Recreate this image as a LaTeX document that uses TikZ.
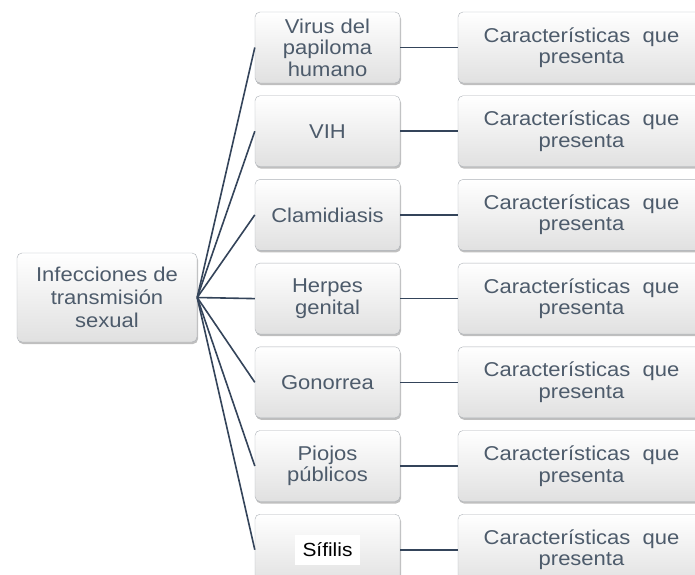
\documentclass[tikz,border=0pt]{standalone}
\usepackage{fontspec}
\setmainfont{Liberation Sans}[FakeStretch=1.1]
\usetikzlibrary{shadows}
\definecolor{textgray}{HTML}{4D5B6B}
\definecolor{linegray}{HTML}{34445A}
\definecolor{boxline}{HTML}{ADB2B8}
\tikzset{
    itsbox/.style={draw=boxline, rounded corners=5pt, top color=white, bottom color=black!12,
        drop shadow={shadow xshift=1pt, shadow yshift=-2pt, opacity=0.5},
        text=textgray, align=center, font=\fontsize{20}{21.5}\selectfont,
        inner sep=0pt, minimum height=71pt},
    link/.style={linegray, line width=1.6pt}
}

\begin{document}
\begin{tikzpicture}[x=1pt, y=-1pt]
    \clip (0,0) rectangle (695,574);
    \fill[white] (0,0) rectangle (695,574);
    % Root box
    \node[itsbox, minimum width=180pt, minimum height=89pt, font=\fontsize{20}{23}\selectfont] (its) at (107,297.5)
        {Infecciones de\\transmisión\\sexual};
    % One row per infection, each with its box of characteristics
    \foreach \name [count=\i] in {{Virus del\\papiloma\\humano}, VIH, Clamidiasis, {Herpes\\genital},
        Gonorrea, {Piojos\\públicos}, {\setlength{\fboxsep}{8pt}\colorbox{white}{\color{black}\fontsize{19}{21}\selectfont Sífilis}}} {
        \node[itsbox, minimum width=145pt] (m\i) at (327.5,{47.5+83.7*(\i-1)}) {\name};
        \node[itsbox, minimum width=247pt] (r\i) at (581.5,{47.5+83.7*(\i-1)}) {Características\ \ que\\presenta};
        \draw[link] (its.east) -- (m\i.west);
        \draw[link] (m\i.east) -- (r\i.west);
    }
\end{tikzpicture}
\end{document}
